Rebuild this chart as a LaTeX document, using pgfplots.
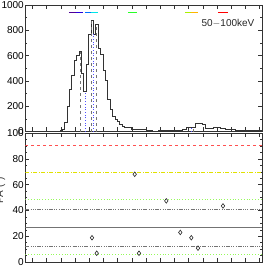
\documentclass[border=0pt]{standalone}
\usepackage{pgfplots}
\pgfplotsset{compat=1.18}
\usepackage{fontspec}
\setmainfont{Liberation Sans}
\definecolor{segA}{RGB}{80,0,150}
\definecolor{segB}{RGB}{40,0,220}
\definecolor{segC}{RGB}{0,110,255}
\definecolor{segD}{RGB}{0,230,230}
\definecolor{segE}{RGB}{40,255,40}
\definecolor{segF}{RGB}{170,240,0}
\definecolor{segG}{RGB}{255,180,0}
\definecolor{segH}{RGB}{255,0,0}
\definecolor{bdot}{RGB}{80,80,255}
\definecolor{lred}{RGB}{255,80,80}
\definecolor{lyel}{RGB}{225,225,0}
\definecolor{lgrn}{RGB}{150,250,90}
\begin{document}
\fontsize{10}{12}\selectfont
\begin{tikzpicture}
\useasboundingbox (0pt,0pt) rectangle (266pt,266pt);
\pgfplotsset{panel/.style={scale only axis, width=236.5pt, xmin=25.5, xmax=262,
  tick align=inside, xtick={32.5,46.7,...,262}, xticklabels={},
  major tick length=4pt, minor tick length=2pt,
  tick style={black!80, line width=0.4pt}, axis line style={black!80, line width=0.6pt},
  /pgf/number format/assume math mode=true,
  /pgf/number format/1000 sep={},
  ticklabel style={font=\fontsize{10}{12}\selectfont},
  yticklabel style={inner sep=1.5pt}}}
\begin{axis}[panel, at={(25.5pt,134.5pt)}, anchor=south west, height=126.5pt,
  ymin=0, ymax=1000, ytick={0,200,...,1000}, minor y tick num=1]
\addplot[const plot, black!80, line width=0.9pt] coordinates {
(25.5,3)(57,4)(60,8)(62.3,15)(64.7,70)(67.1,200)(69.5,330)(71.9,440)(74.3,560)(76.7,600)
(79.1,630)(81.5,460)(83.9,320)(86.3,530)(88.7,770)(91.1,880)(93.5,770)(95.9,850)(98.3,660)
(100.7,610)(103.1,480)(105.5,400)(107.9,250)(110.3,175)(112.7,120)(115.1,95)(117.5,80)
(119.9,55)(122.3,40)(124.7,32)(127.1,32)(129.5,30)(131.9,15)(133.5,20)(140,18)(146,6)
(152,4)(158,8)(164,10)(170,6)(176,8)(182,15)(186,32)(195,60)(202,55)(205,27)(213,32)
(220,25)(225,13)(235,10)(243,5)(262,5)};
\addplot[black!55, dashed, line width=0.7pt] coordinates {(80.7,0)(80.7,630)};
\addplot[black!55, dashed, line width=0.7pt] coordinates {(91.5,0)(91.5,880)};
\addplot[black!55, dashed, line width=0.7pt] coordinates {(96.3,0)(96.3,850)};
\addplot[bdot, dotted, line width=0.7pt] coordinates {(85.2,0)(85.2,320)};
\addplot[bdot, dotted, line width=0.7pt] coordinates {(93.8,0)(93.8,770)};
\addplot[bdot, dotted, line width=0.7pt] coordinates {(191,0)(191,40)};
\addplot[black!55, dashed, line width=0.7pt] coordinates {(193,0)(193,40)};
\addplot[segA, line width=1.3pt] coordinates {(69,938)(76,938)};
\addplot[segB, line width=1.3pt] coordinates {(76,938)(83,938)};
\addplot[segC, line width=1.3pt] coordinates {(85,938)(91,938)};
\addplot[segD, line width=1.3pt] coordinates {(91,938)(97.7,938)};
\addplot[segE, line width=1.3pt] coordinates {(128,938)(137,938)};
\addplot[segF, line width=1.3pt] coordinates {(185,938)(191.5,938)};
\addplot[segG, line width=1.3pt] coordinates {(191.5,938)(198,938)};
\addplot[segH, line width=1.3pt] coordinates {(218,938)(228,938)};
\node[font=\fontsize{10}{12}\selectfont, black!85] at (axis cs:228,855) {50$-$100keV};
\end{axis}
\begin{axis}[panel, at={(25.5pt,4pt)}, anchor=south west, height=129pt,
  ymin=0, ymax=100, ytick={0,20,...,100}, minor y tick num=3]
\addplot[lred, dashed, line width=0.7pt] coordinates {(25.5,90.4)(262,90.4)};
\addplot[lyel, dash pattern=on 4pt off 1.5pt on 1pt off 1.5pt, line width=0.7pt] coordinates {(25.5,69.3)(262,69.3)};
\addplot[lgrn, dotted, line width=0.8pt] coordinates {(25.5,48.4)(262,48.4)};
\addplot[black!55, dash pattern=on 4pt off 1.2pt on 1pt off 1.2pt on 1pt off 1.2pt on 1pt off 1.2pt, line width=0.6pt] coordinates {(25.5,40.9)(262,40.9)};
\addplot[black!55, line width=0.7pt] coordinates {(25.5,26.6)(262,26.6)};
\addplot[black!55, dash pattern=on 4pt off 1.2pt on 1pt off 1.2pt on 1pt off 1.2pt on 1pt off 1.2pt, line width=0.6pt] coordinates {(25.5,12.3)(262,12.3)};
\addplot[lgrn, dotted, line width=0.8pt] coordinates {(25.5,5.7)(262,5.7)};
\addplot[only marks, mark=diamond, mark size=2.3pt, black!85, mark options={line width=0.6pt}] coordinates {
(92,18.8)(96.7,6.8)(134.7,68)(139,6.8)(166.3,47.4)(180.3,22.9)(191.3,18.8)(198,10.7)(223,43.5)};
\end{axis}
\node[rotate=90, anchor=base, font=\fontsize{10}{12}\selectfont, black!80] at (3pt,76pt) {PA (°)};
\end{tikzpicture}
\end{document}
